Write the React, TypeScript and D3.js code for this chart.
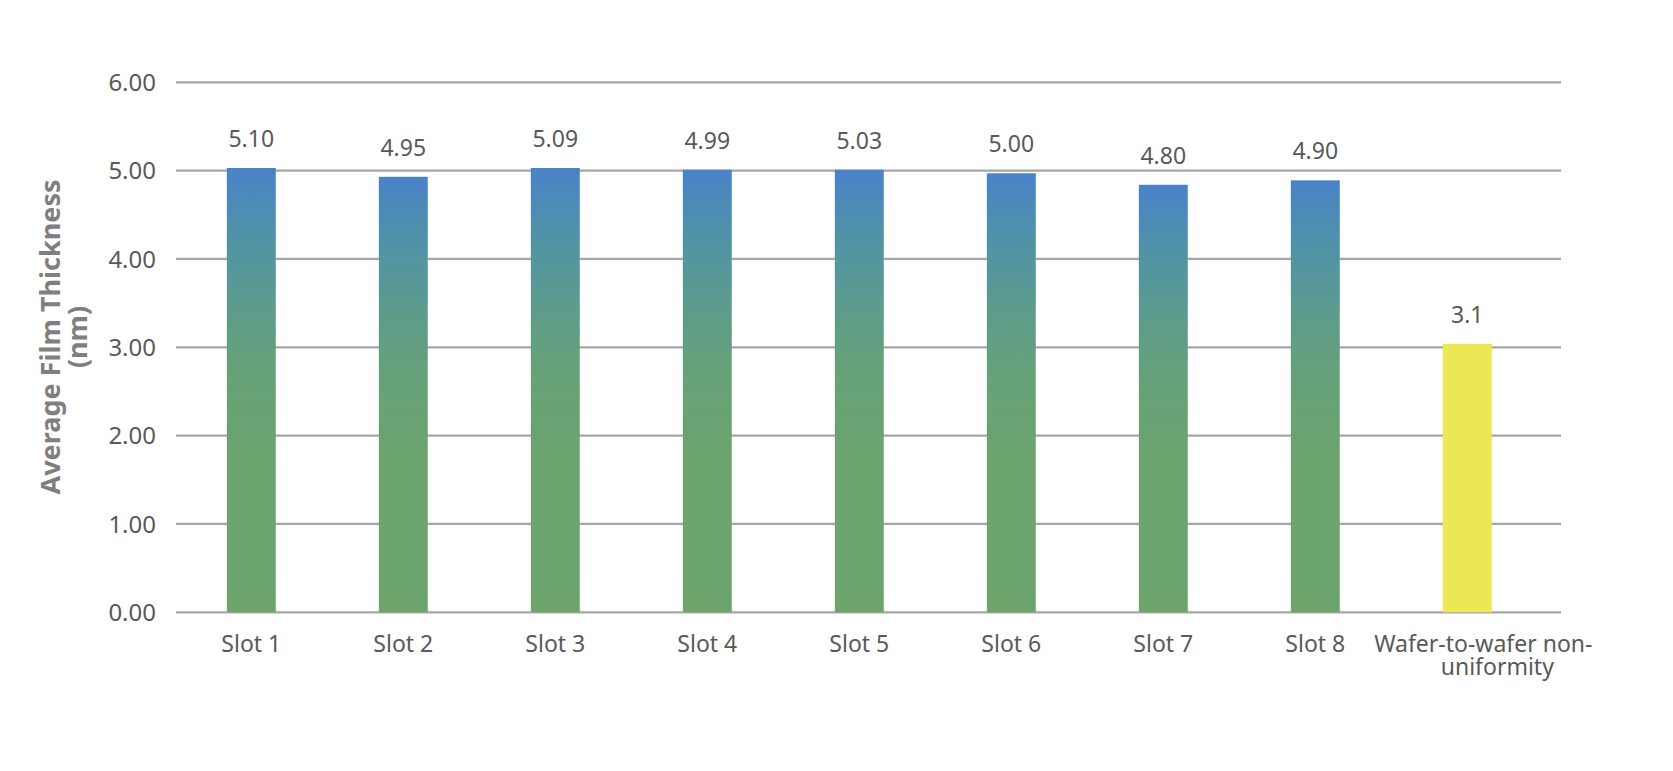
import React from "react";
import * as d3 from "d3";

const categories = ["Slot 1", "Slot 2", "Slot 3", "Slot 4", "Slot 5", "Slot 6", "Slot 7", "Slot 8", "Wafer-to-wafer non-uniformity"];
const barValues = [5.03, 4.93, 5.03, 5.01, 5.01, 4.97, 4.84, 4.89, 3.04];
const valueLabels = ["5.10", "4.95", "5.09", "4.99", "5.03", "5.00", "4.80", "4.90", "3.1"];
const yTicks = [0, 1, 2, 3, 4, 5, 6];
const categoryLines: string[][] = [["Slot 1"], ["Slot 2"], ["Slot 3"], ["Slot 4"], ["Slot 5"], ["Slot 6"], ["Slot 7"], ["Slot 8"], ["Wafer-to-wafer non-", "uniformity"]];

const W = 1673;
const H = 771;
const FONT = "'Noto Sans', 'Open Sans', sans-serif";

export default function App() {
  const x = d3.scaleBand<string>().domain(categories).range([175.3, 175.3 + 152 * 9]).paddingInner(0.678).paddingOuter(0.339);
  const y = d3.scaleLinear().domain([0, 6]).range([612.3, 82.3]);
  const gridX0 = 176;
  const gridX1 = 1561;
  const bw = x.bandwidth();

  return (
    <svg width={W} height={H} viewBox={`0 0 ${W} ${H}`} style={{ position: "absolute", left: 0, top: 0, background: "#fff" }}>
      <defs>
        <linearGradient id="barGrad" x1="0" y1="0" x2="0" y2="1">
          <stop offset="0%" stopColor="#4a82c8" />
          <stop offset="14%" stopColor="#4f92aa" />
          <stop offset="30%" stopColor="#5c9b8e" />
          <stop offset="45%" stopColor="#66a179" />
          <stop offset="65%" stopColor="#6ba46e" />
          <stop offset="100%" stopColor="#6ca46c" />
        </linearGradient>
      </defs>
      {yTicks.map((t) => (
        <g key={t}>
          <line x1={gridX0} x2={gridX1} y1={y(t)} y2={y(t)} stroke="#a6a6a6" strokeWidth={2.2} />
          <text x={156} y={y(t)} dy="0.36em" textAnchor="end" fontFamily={FONT} fontSize={24} fill="#595959">
            {t.toFixed(2)}
          </text>
        </g>
      ))}
      {categories.map((c, i) => {
        const last = i === categories.length - 1;
        const bx = x(c)!;
        const top = y(barValues[i]);
        return (
          <g key={c}>
            <rect x={bx} y={top} width={bw} height={y(0) - top} fill={last ? "#ebe853" : "url(#barGrad)"} />
            <text x={bx + bw / 2} y={top - 21} textAnchor="middle" fontFamily={FONT} fontSize={23} fill="#595959">
              {valueLabels[i]}
            </text>
            <text y={652} textAnchor="middle" fontFamily={FONT} fontSize={23} fill="#595959">
              {categoryLines[i].map((ln, j) => (
                <tspan key={j} x={bx + bw / 2 + (last ? (j === 0 ? 16 : 30) : 0)} dy={j === 0 ? 0 : 23}>
                  {ln}
                </tspan>
              ))}
            </text>
          </g>
        );
      })}
      <g transform="translate(60,337) rotate(-90)">
        <text x={0} y={0} textAnchor="middle" fontFamily={FONT} fontSize={27} fontWeight="bold" fill="#7f7f7f">
          Average Film Thickness
        </text>
        <text x={0} y={27} textAnchor="middle" fontFamily={FONT} fontSize={27} fontWeight="bold" fill="#7f7f7f">
          (nm)
        </text>
      </g>
    </svg>
  );
}
